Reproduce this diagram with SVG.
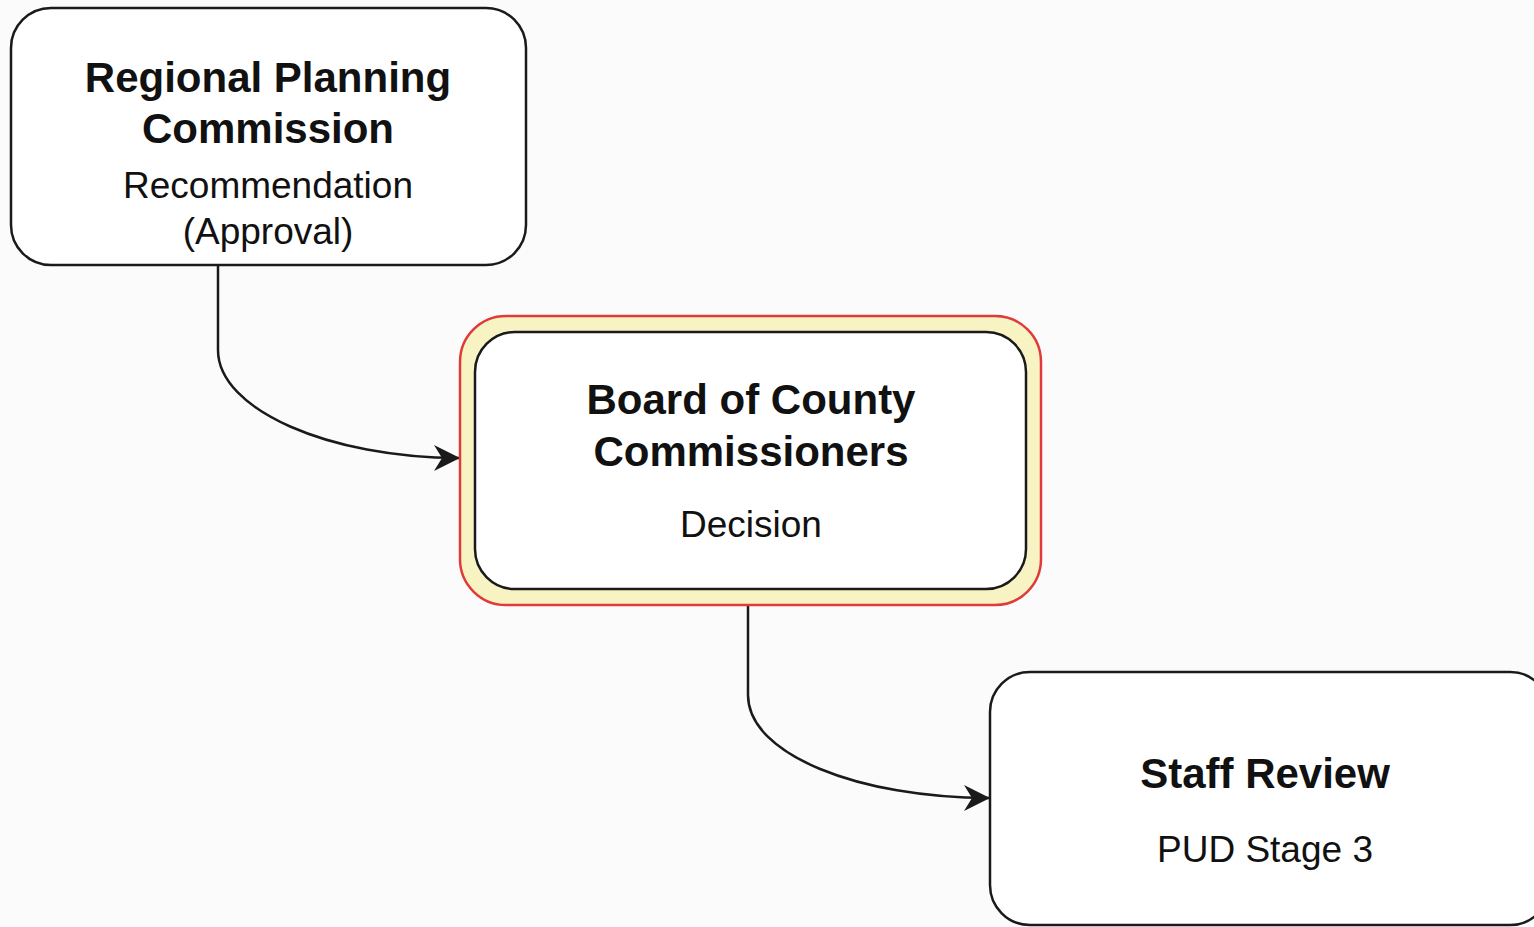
<svg xmlns="http://www.w3.org/2000/svg" width="1534" height="927" viewBox="0 0 1534 927">
<defs>
<style>
.box{fill:#ffffff;stroke:#1a1a1a;stroke-width:2.5}
.hl{fill:#f7f3c2;stroke:#e03a3a;stroke-width:2.5}
.t{font-family:"Liberation Sans",Arial,sans-serif;fill:#111;text-anchor:middle}
.b{font-weight:bold;font-size:42px}
.r{font-size:37px}
.c{fill:none;stroke:#1a1a1a;stroke-width:2.5}
</style>
<marker id="ah" viewBox="0 0 26 26" refX="25" refY="13" markerWidth="26" markerHeight="26" markerUnits="userSpaceOnUse" orient="auto">
<path d="M0,0 L26,13 L0,26 L8,13 Z" fill="#1a1a1a"/>
</marker>
</defs>
<rect width="1534" height="927" fill="#fbfbfb"/>
<g id="connectors">
<path class="c" d="M218,265 L218,350 C218,410 330,458 459,458" marker-end="url(#ah)"/>
<path class="c" d="M748,590 L748,695 C748,755 860,798 989,798" marker-end="url(#ah)"/>
</g>
<g id="node-rpc">
<rect class="box" x="11" y="8" width="515" height="257" rx="40"/>
<text class="t b" x="268" y="92">Regional Planning</text>
<text class="t b" x="268" y="143">Commission</text>
<text class="t r" x="268" y="198">Recommendation</text>
<text class="t r" x="268" y="244">(Approval)</text>
</g>
<g id="node-bocc">
<rect class="hl" x="460" y="316" width="581" height="289" rx="46"/>
<rect class="box" x="475" y="332" width="551" height="257" rx="40"/>
<text class="t b" x="751" y="414">Board of County</text>
<text class="t b" x="751" y="466">Commissioners</text>
<text class="t r" x="751" y="537">Decision</text>
</g>
<g id="node-staff">
<rect class="box" x="990" y="672" width="560" height="253" rx="40"/>
<text class="t b" x="1265" y="788">Staff Review</text>
<text class="t r" x="1265" y="862">PUD Stage 3</text>
</g>
</svg>
